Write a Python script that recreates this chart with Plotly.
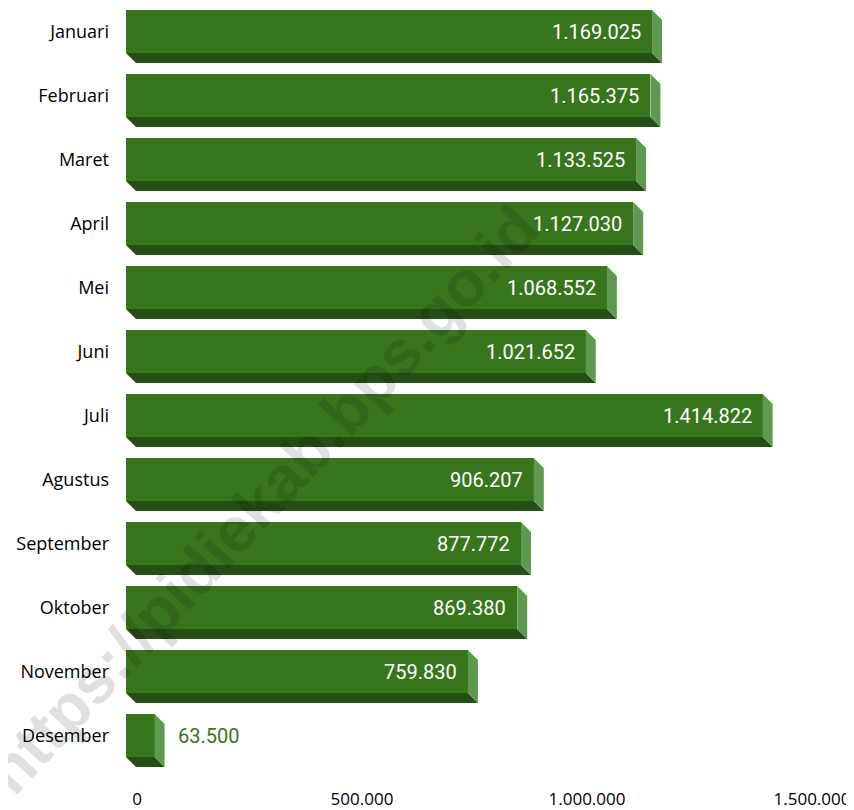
import plotly.graph_objects as go

months = ["Januari", "Februari", "Maret", "April", "Mei", "Juni", "Juli",
          "Agustus", "September", "Oktober", "November", "Desember"]
values = [1169025, 1165375, 1133525, 1127030, 1068552, 1021652, 1414822,
          906207, 877772, 869380, 759830, 63500]
x_ticks = [0, 500000, 1000000, 1500000]

FRONT = "#38761d"
BOTTOM = "#254f14"
SIDE = "#5f9850"

# page has an 8px body margin; figure is sized to fit the 854x810 window
OFF = 8
W, H = 854 - OFF, 810 - OFF
ML, MT = 126 - OFF, 0
plot_w = 675
MR = W - ML - plot_w
plot_h = 760
MB = H - MT - plot_h
XMAX = 1500000
n = len(months)
px_per_x = plot_w / XMAX
ROW = 64.0
y_top = -(31.5 - OFF - MT) / ROW
y_bot = y_top + plot_h / ROW

DEPTH_PX = 10
dx = DEPTH_PX / px_per_x
dy = DEPTH_PX / ROW
bh = 43 / ROW  # front face height in category units


def fmt(v):
    return f"{v:,}".replace(",", ".")


fig = go.Figure()

ys = list(range(n))

# bottom faces
bx, by = [], []
for i, v in zip(ys, values):
    yb = i + bh / 2
    bx += [0, v, v + dx, dx, 0, None]
    by += [yb, yb, yb + dy, yb + dy, yb, None]
fig.add_trace(go.Scatter(x=bx, y=by, mode="lines", fill="toself",
                         fillcolor=BOTTOM, line=dict(width=0, color=BOTTOM),
                         hoverinfo="skip", showlegend=False))

# side faces
sx, sy = [], []
for i, v in zip(ys, values):
    yt = i - bh / 2
    yb = i + bh / 2
    sx += [v, v + dx, v + dx, v, v, None]
    sy += [yt, yt + dy, yb + dy, yb, yt, None]
fig.add_trace(go.Scatter(x=sx, y=sy, mode="lines", fill="toself",
                         fillcolor=SIDE, line=dict(width=0, color=SIDE),
                         hoverinfo="skip", showlegend=False))

# front faces
fig.add_trace(go.Bar(x=values, y=ys, orientation="h", width=bh,
                     marker=dict(color=FRONT, line=dict(width=0)),
                     hoverinfo="skip", showlegend=False))

# value labels
for i, v in zip(ys, values):
    if v > 200000:
        fig.add_annotation(x=v, y=i, text=fmt(v), showarrow=False,
                           xanchor="right", yanchor="middle", xshift=-9,
                           font=dict(family="Roboto", size=20, color="white"))
    else:
        fig.add_annotation(x=v, y=i, text=fmt(v), showarrow=False,
                           xanchor="left", yanchor="middle", xshift=21,
                           font=dict(family="Roboto", size=20, color=FRONT))

# watermark
cx, cy = 262, 500  # window pixel centre
fig.add_annotation(xref="paper", yref="paper",
                   x=(cx - OFF - ML) / plot_w,
                   y=1 - (cy - OFF - MT) / plot_h,
                   xanchor="center", yanchor="middle",
                   text="<b>https://pidiekab.bps.go.id</b>",
                   showarrow=False, textangle=-47,
                   font=dict(family="Liberation Sans", size=64,
                             color="rgba(0,0,0,0.12)"))

fig.update_layout(
    width=W, height=H, template="none",
    margin=dict(l=ML, r=MR, t=MT, b=MB, pad=0),
    paper_bgcolor="white", plot_bgcolor="white",
    bargap=0,
    xaxis=dict(range=[0, XMAX], tickvals=x_ticks,
               ticktext=[fmt(t) for t in x_ticks],
               showgrid=False, zeroline=False, showline=False, ticks="",
               automargin=False, ticklabelshift=11, ticklabelstandoff=19,
               tickfont=dict(family="Open Sans", size=17, color="black")),
    yaxis=dict(range=[y_bot, y_top], tickvals=ys, ticktext=months,
               showgrid=False, zeroline=False, showline=False, ticks="",
               automargin=False, ticklabelstandoff=16,
               tickfont=dict(family="Open Sans", size=18, color="black")),
)

fig.write_html("out.html")
